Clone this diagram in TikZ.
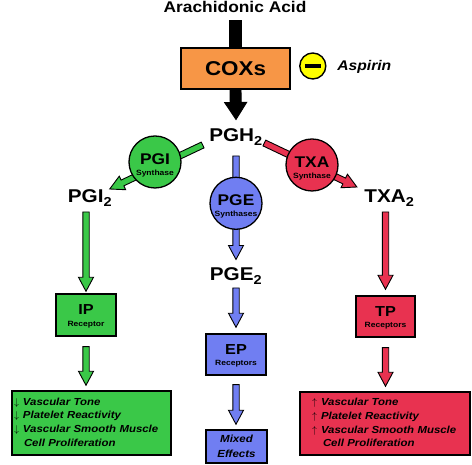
\documentclass[tikz,border=0pt]{standalone}
\usepackage{fontspec}
\setmainfont{Liberation Sans}[FakeStretch=1.12]
\usepackage{tikz}
\usetikzlibrary{calc}
\definecolor{orng}{RGB}{247, 150, 70}
\definecolor{grn}{RGB}{58, 200, 72}
\definecolor{blu}{RGB}{112, 126, 242}
\definecolor{rd}{RGB}{232, 50, 80}
\definecolor{ylw}{RGB}{255, 255, 0}

% fat outlined arrow: colour, from, to, shaft half width, head half width, head length
\newcommand{\fatarrow}[6]{%
  \coordinate (fa-s) at (#2);
  \coordinate (fa-e) at (#3);
  \draw[fill=#1, line width=0.9pt, line join=miter]
    let \p1=($(fa-e)-(fa-s)$), \n1={atan2(\y1,\x1)}, \n2={veclen(\x1,\y1)-#6} in
    ($(fa-s)+(\n1+90:#4)$) -- ($(fa-s)+(\n1:\n2)+(\n1+90:#4)$) -- ($(fa-s)+(\n1:\n2)+(\n1+90:#5)$)
    -- (fa-e) -- ($(fa-s)+(\n1:\n2)+(\n1-90:#5)$) -- ($(fa-s)+(\n1:\n2)+(\n1-90:#4)$)
    -- ($(fa-s)+(\n1-90:#4)$) -- cycle;}
\newcommand{\pathway}[3]{\fatarrow{#1}{#2}{#3}{3.2}{7.5}{14}}
% big name over small name
\newcommand{\twolines}[4]{{\renewcommand{\arraystretch}{0}%
  \begin{tabular}[b]{@{}c@{}}\fontsize{#1}{#1}\selectfont #2\\[#3]\fontsize{7.6}{7.6}\selectfont #4\end{tabular}}}

\begin{document}
\begin{tikzpicture}[x=1pt, y=1pt, line width=1.2pt,
  chem/.style={inner sep=0pt, anchor=base, font=\bfseries\fontsize{18.5}{18.5}\selectfont},
  box/.style={draw, rectangle, inner sep=0pt, line width=1.4pt},
  enzyme/.style={draw, circle, minimum size=52pt, inner sep=0pt, line width=1.3pt,
    font=\bfseries, text height=27pt, text depth=0pt},
  receptor/.style={box, minimum width=60pt, minimum height=41pt, font=\bfseries,
    text height=23pt, text depth=0pt},
  effects/.style={box, inner xsep=2pt, align=left, minimum height=64pt,
    font=\bfseries\itshape\fontsize{10.2}{13.6}\selectfont}]
  \useasboundingbox (0, 0) rectangle (472, 465);

  % substrate and COX step
  \node[chem, font=\bfseries\fontsize{15.5}{15.5}\selectfont] (aa) at (235, 452.3) {Arachidonic Acid};
  \node[box, fill=orng, minimum width=109pt, minimum height=41pt,
    font=\bfseries\fontsize{20}{20}\selectfont] (cox) at (235.5, 396.5) {COXs};
  \node[draw, circle, fill=ylw, minimum size=26pt, inner sep=0pt, line width=1.4pt] (asp) at (312.8, 399) {};
  \draw[line width=3.5pt] ([xshift=-8pt]asp.center) -- ([xshift=8pt]asp.center);
  \node[inner sep=0pt, anchor=base west, font=\bfseries\itshape\fontsize{14}{14}\selectfont] (aspt) at (336.7, 394) {Aspirin};

  % prostanoids
  \node[chem] (pgh) at (236, 323) {PGH\textsubscript{2}};
  \node[chem] (pgi2) at (90, 262) {PGI\textsubscript{2}};
  \node[chem] (pge2) at (236, 184) {PGE\textsubscript{2}};
  \node[chem] (txa2) at (389.5, 262) {TXA\textsubscript{2}};

  % receptors
  \node[receptor, fill=grn, minimum height=42pt] (ip) at (86, 150) {\twolines{14.5}{IP}{6.5pt}{Receptor}};
  \node[receptor, fill=blu] (ep) at (236, 110.5) {\twolines{14.5}{EP}{6.5pt}{Receptors}};
  \node[receptor, fill=rd, minimum width=59pt] (tp) at (385.5, 148.5) {\twolines{14.5}{TP}{6.5pt}{Receptors}};

  % effects
  \node[effects, fill=grn, text width=155pt] (gfx) at (91.5, 42) {\noindent
    \begin{tabular}{@{}l@{\hspace{4pt}}l@{}}
      $\downarrow$ & Vascular Tone\\
      $\downarrow$ & Platelet Reactivity\\
      $\downarrow$ & Vascular Smooth Muscle\\
                   & \hspace{1pt}Cell Proliferation
    \end{tabular}};
  \node[box, fill=blu, minimum width=61pt, minimum height=33pt, align=center,
    font=\bfseries\itshape\fontsize{10.3}{14.5}\selectfont] (mix) at (236.5, 18.5) {Mixed\\Effects};
  \node[effects, fill=rd, minimum height=63pt, text width=166pt] (rfx) at (385, 41.5) {\noindent\hspace*{10pt}%
    \begin{tabular}{@{}l@{\hspace{4pt}}l@{}}
      $\uparrow$ & Vascular Tone\\
      $\uparrow$ & Platelet Reactivity\\
      $\uparrow$ & Vascular Smooth Muscle\\
                 & \hspace{2pt}Cell Proliferation
    \end{tabular}};

  % arrows
  \fill ([xshift=-6pt, yshift=-7pt]aa.south) rectangle ([xshift=6pt]cox.north);
  \fatarrow{black}{cox.south}{[yshift=9pt]pgh.north}{5.5}{11}{17}
  \pathway{grn}{[shift={(-6pt,-3pt)}]pgh.base west}{[shift={(-3pt,14pt)}]pgi2.base east}
  \pathway{rd}{[shift={(1pt,-1pt)}]pgh.base east}{[shift={(-7pt,16pt)}]txa2.base west}
  \pathway{blu}{[yshift=-14pt]pgh.base}{[yshift=8pt]pge2.north}
  \pathway{grn}{[xshift=-4pt, yshift=-9pt]pgi2.base}{[yshift=2pt]ip.north}
  \pathway{grn}{[yshift=-10pt]ip.south}{$(ip.south |- gfx.north)+(0,5)$}
  \pathway{blu}{[yshift=-7pt]pge2.base}{[yshift=6pt]ep.north}
  \pathway{blu}{[yshift=-9pt]ep.south}{$(ep.south |- mix.north)+(0,5)$}
  \pathway{rd}{[xshift=-4pt, yshift=-9pt]txa2.base}{[yshift=6pt]tp.north}
  \pathway{rd}{[yshift=-10pt]tp.south}{$(tp.south |- rfx.north)+(0,5)$}

  % synthases on top of the arrows
  \node[enzyme, fill=grn] (pgi) at (155, 303) {\twolines{15.5}{PGI}{5.5pt}{Synthase}};
  \node[enzyme, fill=blu] (pge) at (236, 261.7) {\twolines{15.5}{PGE}{5.5pt}{Synthases}};
  \node[enzyme, fill=rd] (txa) at (312, 300) {\twolines{15.5}{TXA}{5.5pt}{Synthase}};
\end{tikzpicture}
\end{document}
